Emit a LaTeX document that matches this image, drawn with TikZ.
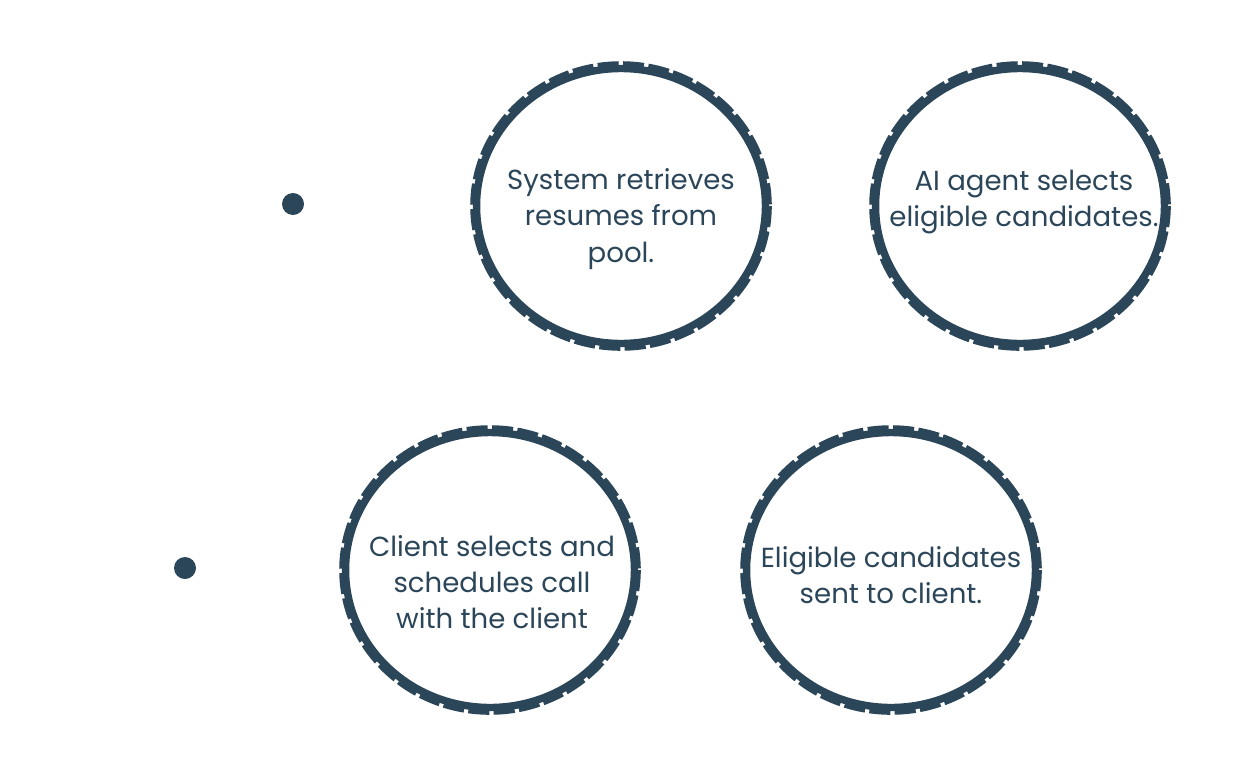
\documentclass[tikz,border=0pt]{standalone}
\usepackage{fontspec}
\setmainfont{Poppins}
\definecolor{slate}{HTML}{2B4559}
\tikzset{
  step ring/.style={draw=slate,line width=4.2pt,ellipse,minimum width=290\px,minimum height=276\px},
  step text/.style={text=slate,align=center,font=\fontsize{15.7}{20.7}\selectfont},
}
\newlength{\px}
\setlength{\px}{0.567pt}
\usetikzlibrary{shapes.geometric}
\begin{document}
\begin{tikzpicture}[x=0.02cm,y=-0.02cm]
\useasboundingbox (0,0) rectangle (1233,774);
% dots on the left
\fill [slate] (293,204) circle (11) coordinate (dotA);
\fill [slate] (185,568) circle (11) coordinate (dotB);
% the four steps
\node [step ring] (retrieve) at (621,206) {};
\node [step ring] (select) at (1020,206) {};
\node [step ring] (schedule) at (490,570) {};
\node [step ring] (send) at (891,570) {};
\foreach \n in {retrieve,select,schedule,send}
  \draw [slate,line width=2.6pt,dash pattern=on 12pt off 2.5pt] (\n.center) ellipse (148.5 and 142.5);
\node [step text] at (621,219) {System retrieves\\resumes from\\pool.};
\node [step text] at (1024,202) {AI agent selects\\eligible candidates.};
\node [step text] at (492,582) {Client selects and\\schedules call\\with the client};
\node [step text] at (891,575) {Eligible candidates\\sent to client.};
\end{tikzpicture}
\end{document}
